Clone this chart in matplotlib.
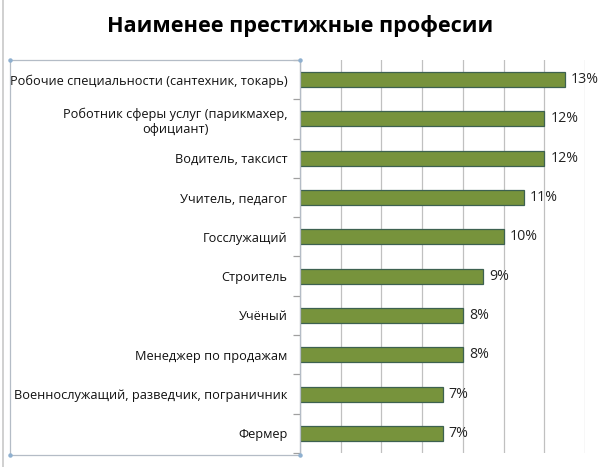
import matplotlib.pyplot as plt
from matplotlib.lines import Line2D
from matplotlib.patches import Rectangle

# Data
professions = [
    "Робочие специальности (сантехник, токарь)",
    "Роботник сферы услуг (парикмахер,\nофициант)",
    "Водитель, таксист",
    "Учитель, педагог",
    "Госслужащий",
    "Строитель",
    "Учёный",
    "Менеджер по продажам",
    "Военнослужащий, разведчик, пограничник",
    "Фермер",
]
shares = [13, 12, 12, 11, 10, 9, 8, 8, 7, 7]
value_labels = [f"{v}%" for v in shares]

plt.rcParams["font.family"] = ["Open Sans", "DejaVu Sans"]

fig = plt.figure(figsize=(6.0, 4.67), dpi=100)
ax = fig.add_axes([0.5, 0.030, 0.475, 0.8415])

y = list(range(len(professions)))
ax.barh(y, shares, height=0.38, color="#77933C", edgecolor="#3d6150", linewidth=0.9, zorder=3)

for yi, v, lab in zip(y, shares, value_labels):
    ax.text(v + 0.3, yi, lab, va="center", ha="left", fontsize=10.2, color="#222222")

ax.set_xlim(0, 14)
ax.set_ylim(len(professions) - 0.5, -0.5)
ax.set_xticks(range(0, 15, 2))
ax.tick_params(axis="x", length=0, labelbottom=False)
ax.grid(axis="x", color="#c0c0c0", linewidth=0.9, zorder=0)

# category labels
ax.set_yticks(y)
ax.set_yticklabels(professions, fontsize=9.2, color="#111111", multialignment="center")
ax.tick_params(axis="y", length=0, pad=9)
ax.set_yticks([i - 0.5 for i in range(len(professions) + 1)], minor=True)
ax.tick_params(axis="y", which="minor", length=5, color="#a0a0a0", width=0.9)

for side in ["top", "right", "bottom"]:
    ax.spines[side].set_visible(False)
ax.spines["left"].set_color("#a0a0a0")

fig.suptitle("Наименее престижные професии", fontsize=15.6, fontweight="bold", x=0.5, y=0.968)

# chart frame on the left edge and selection box around the axis labels
fig.add_artist(Line2D([2.5 / 600, 2.5 / 600], [0, 1], color="#c8c8c8", linewidth=1.2))
box = Rectangle((10 / 600, 12 / 467), 290 / 600, 395 / 467, fill=False,
                edgecolor="#b4bcc6", linewidth=0.9, transform=fig.transFigure)
fig.add_artist(box)
for cx, cy in [(10, 12), (300, 12), (10, 407), (300, 407)]:
    fig.add_artist(Line2D([cx / 600], [cy / 467], marker="o", markersize=2.2,
                          color="#8fb0d0", linestyle="none"))

fig.savefig("out.png", dpi=100)
